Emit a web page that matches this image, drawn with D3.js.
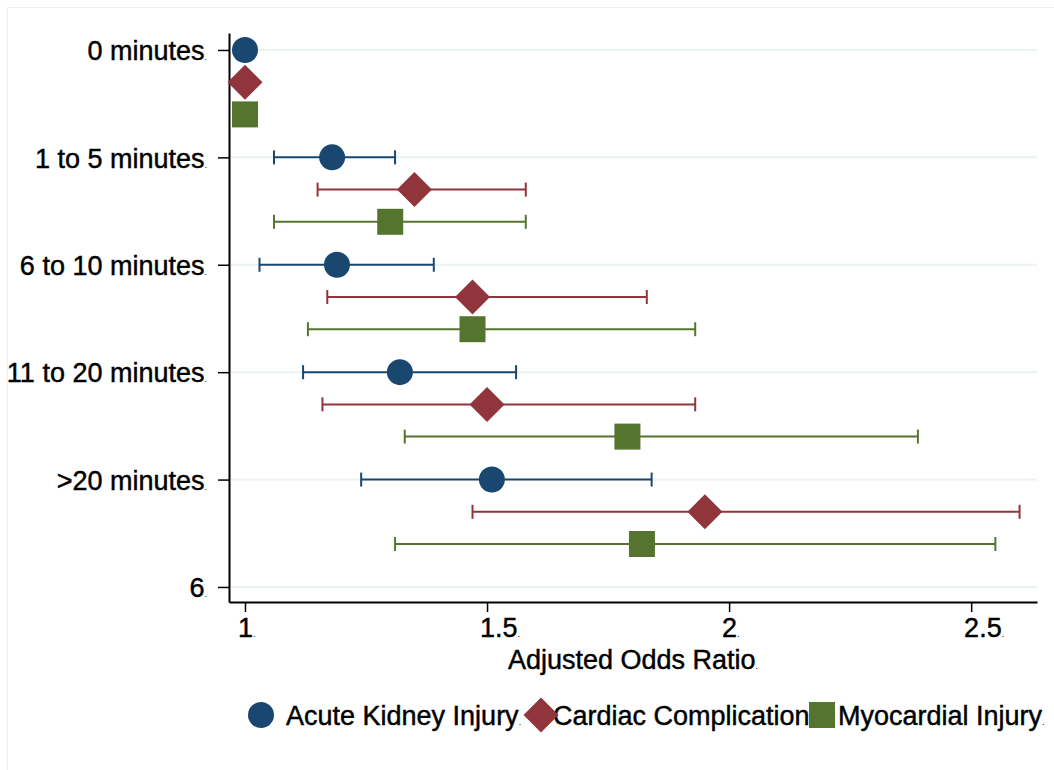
<!DOCTYPE html>
<html>
<head>
<meta charset="utf-8">
<script src="https://cdn.jsdelivr.net/npm/d3@7"></script>
<style>
  html, body { margin: 0; padding: 0; background: #fff; }
  svg { display: block; font-family: "Liberation Sans", Arial, sans-serif; }
  .lbl { stroke: #000; stroke-width: 0.45px; paint-order: stroke; }
</style>
</head>
<body>
<svg id="chart" width="1054" height="770"></svg>
<script>
// Exposure duration categories (reference group first)
const categories = ["0 minutes", "1 to 5 minutes", "6 to 10 minutes", "11 to 20 minutes", ">20 minutes"];
const yTickLabels = ["0 minutes", "1 to 5 minutes", "6 to 10 minutes", "11 to 20 minutes", ">20 minutes", "6"];
const xTicks = [1, 1.5, 2, 2.5];
const xTickLabels = ["1", "1.5", "2", "2.5"];

const seriesNames = ["Acute Kidney Injury", "Cardiac Complication", "Myocardial Injury"];
const seriesColors = ["#1a476f", "#90353b", "#55752f"];
const seriesShapes = ["circle", "diamond", "square"];

// Adjusted odds ratios with 95% CI (reference category has no interval)
const akiOR   = [1.00, 1.18, 1.19, 1.32, 1.51];
const akiLow  = [null, 1.06, 1.03, 1.12, 1.24];
const akiHigh = [null, 1.31, 1.39, 1.56, 1.84];

const cardOR   = [1.00, 1.35, 1.47, 1.50, 1.95];
const cardLow  = [null, 1.15, 1.17, 1.16, 1.47];
const cardHigh = [null, 1.58, 1.83, 1.93, 2.60];

const myoOR   = [1.00, 1.30, 1.47, 1.79, 1.82];
const myoLow  = [null, 1.06, 1.13, 1.33, 1.31];
const myoHigh = [null, 1.58, 1.93, 2.39, 2.55];

const seriesData = [
  { or: akiOR, lo: akiLow, hi: akiHigh },
  { or: cardOR, lo: cardLow, hi: cardHigh },
  { or: myoOR, lo: myoLow, hi: myoHigh }
];
const seriesOffset = [0, 0.3, 0.6];

const svg = d3.select("#chart");
const W = 1054, H = 770;

// faint outer frame
svg.append("rect").attr("x", 7.5).attr("y", 7.5).attr("width", W).attr("height", H)
  .attr("fill", "#fff").attr("stroke", "#efefef").attr("stroke-width", 1);

const x = d3.scaleLinear().domain([0.967, 2.636]).range([229, 1037]);
const y = d3.scaleLinear().domain([0.842, 6.14]).range([33, 602]);

const fontSize = 27;

// gridlines
svg.append("g").selectAll("line").data(d3.range(1, 7)).join("line")
  .attr("x1", x.range()[0]).attr("x2", x.range()[1])
  .attr("y1", d => y(d)).attr("y2", d => y(d))
  .attr("stroke", "#eaf2f3").attr("stroke-width", 2);

// y axis
const yAxis = d3.axisLeft(y).tickValues(d3.range(1, 7))
  .tickFormat((d, i) => yTickLabels[i]).tickSize(11).tickSizeOuter(0).tickPadding(11);
const gy = svg.append("g").attr("transform", `translate(${x.range()[0]},0)`).call(yAxis);
gy.select(".domain").attr("stroke", "#000").attr("stroke-width", 2);
gy.selectAll(".tick line").attr("stroke", "#000").attr("stroke-width", 1.5);
gy.selectAll(".tick text").attr("font-size", fontSize).attr("fill", "#000")
  .attr("class", "lbl")
  .attr("font-family", "Liberation Sans, Arial, sans-serif")
  .attr("dy", "0.36em")
  .each(function () {
    d3.select(this).append("tspan").attr("font-size", 9).attr("stroke-width", 0).text(".");
  });

// x axis
const xAxis = d3.axisBottom(x).tickValues(xTicks)
  .tickFormat((d, i) => xTickLabels[i]).tickSize(10).tickSizeOuter(0).tickPadding(6);
const gx = svg.append("g").attr("transform", `translate(0,${y.range()[1]})`).call(xAxis);
gx.select(".domain").attr("stroke", "#000").attr("stroke-width", 2);
gx.selectAll(".tick line").attr("stroke", "#000").attr("stroke-width", 1.5);
gx.selectAll(".tick text").attr("font-size", fontSize).attr("fill", "#000")
  .attr("class", "lbl")
  .attr("font-family", "Liberation Sans, Arial, sans-serif")
  .attr("text-anchor", "start").attr("dx", "-0.28em")
  .each(function () {
    d3.select(this).append("tspan").attr("font-size", 9).attr("stroke-width", 0).text(".");
  });

// axis title
const title = svg.append("text").attr("class", "lbl").attr("x", 633).attr("y", 669)
  .attr("text-anchor", "middle").attr("font-size", fontSize).attr("fill", "#000")
  .text("Adjusted Odds Ratio");
title.append("tspan").attr("font-size", 9).attr("stroke-width", 0).text(".");

// marker drawing
function marker(g, shape, cx, cy, color) {
  if (shape === "circle") {
    g.append("circle").attr("cx", cx).attr("cy", cy).attr("r", 13).attr("fill", color);
  } else if (shape === "diamond") {
    const s = 17.5;
    g.append("path").attr("d", `M${cx},${cy - s}L${cx + s},${cy}L${cx},${cy + s}L${cx - s},${cy}Z`).attr("fill", color);
  } else {
    const s = 13;
    g.append("rect").attr("x", cx - s).attr("y", cy - s).attr("width", 2 * s).attr("height", 2 * s).attr("fill", color);
  }
}

// confidence intervals and point estimates
const plot = svg.append("g");
seriesData.forEach((sd, si) => {
  const color = seriesColors[si];
  const g = plot.append("g");
  categories.forEach((c, ci) => {
    const cy = y(ci + 1 + seriesOffset[si]);
    if (sd.lo[ci] != null) {
      const x0 = x(sd.lo[ci]), x1 = x(sd.hi[ci]);
      g.append("line").attr("x1", x0).attr("x2", x1).attr("y1", cy).attr("y2", cy)
        .attr("stroke", color).attr("stroke-width", 2);
      [x0, x1].forEach(xx => g.append("line").attr("x1", xx).attr("x2", xx)
        .attr("y1", cy - 7).attr("y2", cy + 7).attr("stroke", color).attr("stroke-width", 2));
    }
  });
  categories.forEach((c, ci) => {
    marker(g, seriesShapes[si], x(sd.or[ci]), y(ci + 1 + seriesOffset[si]), color);
  });
});

// legend
const legendY = 715;
const legendItems = [
  { mx: 261, tx: 286 },
  { mx: 541, tx: 553 },
  { mx: 822, tx: 838 }
];
const lg = svg.append("g");
seriesNames.forEach((name, i) => {
  const t = lg.append("text").attr("class", "lbl").attr("x", legendItems[i].tx).attr("y", legendY)
    .attr("dy", "0.36em").attr("font-size", fontSize).attr("fill", "#000").text(name);
  t.append("tspan").attr("font-size", 9).attr("stroke-width", 0).text(".");
});
seriesNames.forEach((name, i) => {
  marker(lg, seriesShapes[i], legendItems[i].mx, legendY, seriesColors[i]);
});
</script>
</body>
</html>
